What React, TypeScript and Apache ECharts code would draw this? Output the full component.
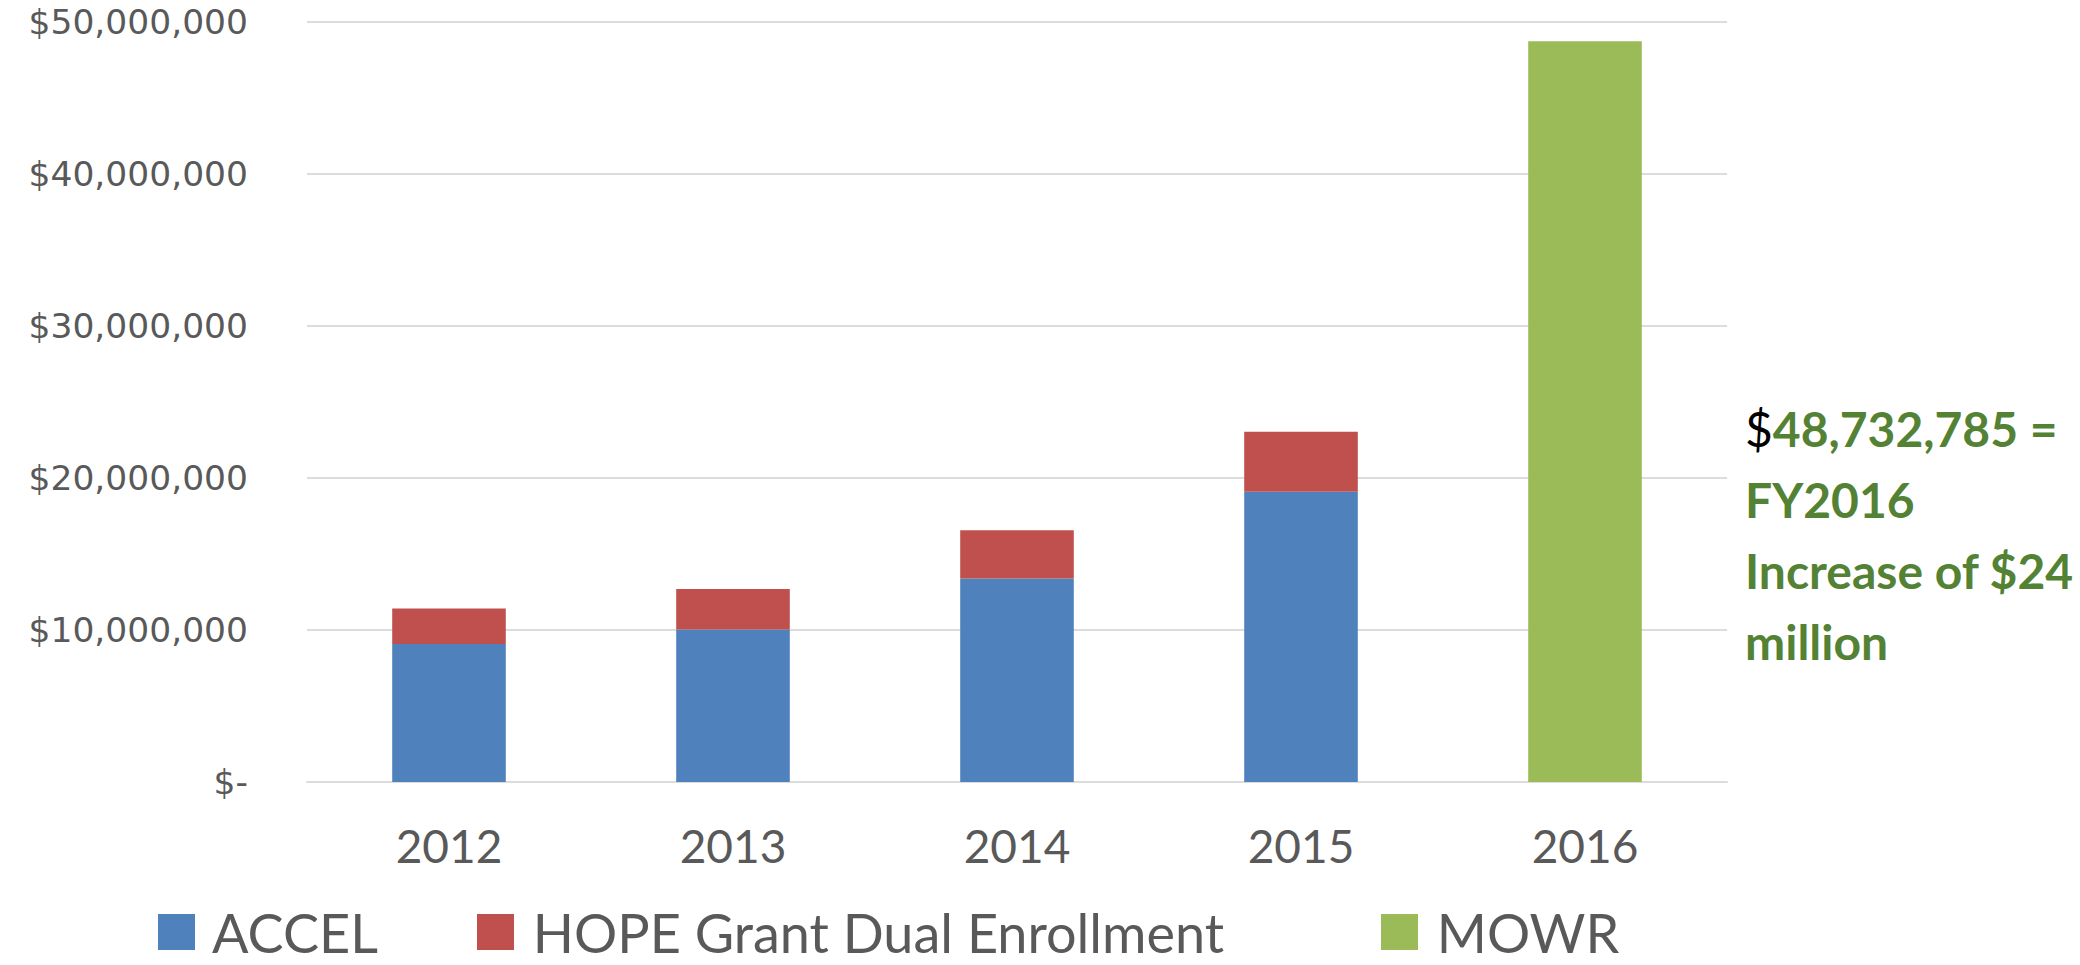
import React, { useEffect, useRef } from "react";
import * as echarts from "echarts";

const categories = ["2012", "2013", "2014", "2015", "2016"];
const accelValues = [9080000, 10030000, 13390000, 19090000, null];
const hopeValues = [2340000, 2660000, 3180000, 3950000, null];
const mowrValues = [null, null, null, null, 48732785];
const seriesNames = ["ACCEL", "HOPE Grant Dual Enrollment", "MOWR"];
const seriesColors = ["#4F81BD", "#C0504D", "#9BBB59"];
const yMin = 0;
const yMax = 50000000;
const yInterval = 10000000;
const noteLines = ["48,732,785 =", "FY2016", "Increase of $24", "million"];

function fmtMoney(v: number): string {
  if (v === 0) return "$-";
  return "$" + String(v).replace(/\B(?=(\d{3})+(?!\d))/g, ",");
}

export default function App() {
  const ref = useRef<HTMLDivElement>(null);
  useEffect(() => {
    if (!ref.current) return;
    const chart = echarts.init(ref.current, null, { renderer: "svg" });
    const legendText = { color: "#595959", fontFamily: "Lato", fontSize: 54, lineHeight: 54 };
    const legendBase = {
      top: 900,
      icon: "rect",
      itemWidth: 37,
      itemHeight: 36,
      itemGap: 0,
      textStyle: legendText,
      selectedMode: false,
      formatter: (name: string) => " " + name,
    };
    const option = {
      animation: false,
      backgroundColor: "#FFFFFF",
      grid: { left: 307, right: 353, top: 22, bottom: 183, containLabel: false },
      legend: [
        { ...legendBase, left: 153, data: [seriesNames[0]] },
        { ...legendBase, left: 472, data: [seriesNames[1]] },
        { ...legendBase, left: 1376, data: [seriesNames[2]] },
      ],
      xAxis: {
        type: "category",
        data: categories,
        axisTick: { show: false },
        axisLine: { show: true, lineStyle: { color: "#DCDCDC", width: 2 } },
        axisLabel: { color: "#595959", fontFamily: "Lato", fontSize: 46, margin: 40 },
      },
      yAxis: {
        type: "value",
        min: yMin,
        max: yMax,
        interval: yInterval,
        axisLine: { show: false },
        axisTick: { show: false },
        splitLine: { lineStyle: { color: "#DCDCDC", width: 2 } },
        axisLabel: {
          color: "#595959",
          fontFamily: "DejaVu Sans",
          fontSize: 34.5,
          margin: 59,
          formatter: (v: number) => fmtMoney(v),
        },
      },
      series: [
        { name: seriesNames[0], type: "bar", stack: "total", barWidth: "40%", data: accelValues, itemStyle: { color: seriesColors[0] } },
        { name: seriesNames[1], type: "bar", stack: "total", barWidth: "40%", data: hopeValues, itemStyle: { color: seriesColors[1] } },
        { name: seriesNames[2], type: "bar", stack: "total", barWidth: "40%", data: mowrValues, itemStyle: { color: seriesColors[2] } },
      ],
      graphic: [
        {
          type: "text",
          left: 1745,
          top: 404,
          style: {
            text:
              "{d|$}{g|" + noteLines[0] + "}\n{g|" + noteLines[1] + "}\n{g|" + noteLines[2] + "}\n{g|" + noteLines[3] + "}",
            rich: {
              d: { fill: "#000000", color: "#000000", fontFamily: "Lato", fontSize: 48, fontWeight: "normal", lineHeight: 71 },
              g: { fill: "#548235", color: "#548235", fontFamily: "Lato", fontSize: 48, fontWeight: "bold", lineHeight: 71 },
            },
          },
        },
      ],
    };
    chart.setOption(option as any);
    return () => chart.dispose();
  }, []);
  return (
    <div
      ref={ref}
      style={{ position: "fixed", left: 0, top: 0, width: 2080, height: 965, background: "#FFFFFF" }}
    />
  );
}
